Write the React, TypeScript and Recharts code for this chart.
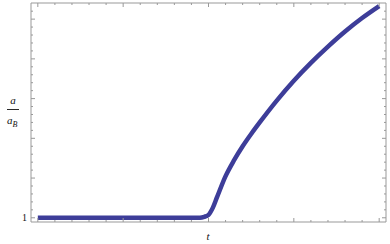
import React from 'react';
import { LineChart, Line, XAxis, YAxis, ReferenceLine, Label } from 'recharts';

// time samples (t) and the ratio a / a_B
const tValues = [0, 1, 2, 3, 4, 5, 6, 7, 8, 9, 9.5, 9.75, 10, 10.25, 10.5, 11, 11.5, 12, 12.5, 13, 14, 15, 16, 17, 18, 19, 20];
const aRatio = [1, 1, 1, 1, 1, 1, 1, 1, 1, 1, 1.002, 1.025, 1.075, 1.25, 1.52, 2.05, 2.45, 2.8, 3.11, 3.4, 3.95, 4.45, 4.9, 5.31, 5.69, 6.03, 6.33];

const xTicks = [0, 1, 2, 3, 4, 5, 6, 7, 8, 9, 10, 11, 12, 13, 14, 15, 16, 17, 18, 19, 20];
const yTicks = [1, 1.2, 1.4, 1.6, 1.8, 2, 2.2, 2.4, 2.6, 2.8, 3, 3.2, 3.4, 3.6, 3.8, 4, 4.2, 4.4, 4.6, 4.8, 5, 5.2, 5.4, 5.6, 5.8, 6, 6.2];
const yLabelled = [1];

const X_MIN = -0.4;
const X_MAX = 20.4;
const Y_MIN = 0.894;
const Y_MAX = 6.406;

const data = tValues.map((t, i) => ({ t, a: aRatio[i] }));

const FRAME = '#999999';
const LINE = '#3d3d99';
const PLOT_TOP = 3;
const PLOT_RIGHT = 386;
const serif = '"Liberation Serif", "Times New Roman", serif';

const isMajor = (v: number) => Math.abs(v - Math.round(v)) < 1e-6;

const XTick = (props: any) => {
    const { x, y, payload } = props;
    const len = payload.value % 5 === 0 ? 4 : 2;
    return (
        <g stroke={FRAME} strokeWidth={1}>
            <line x1={x} x2={x} y1={y} y2={y - len} />
            <line x1={x} x2={x} y1={PLOT_TOP} y2={PLOT_TOP + len} />
        </g>
    );
};

const YTick = (props: any) => {
    const { x, y, payload } = props;
    const len = isMajor(payload.value) ? 4 : 2;
    return (
        <g>
            <line x1={x} x2={x + len} y1={y} y2={y} stroke={FRAME} />
            <line x1={PLOT_RIGHT} x2={PLOT_RIGHT - len} y1={y} y2={y} stroke={FRAME} />
            {yLabelled.includes(payload.value) && (
                <text x={x - 4} y={y + 3.5} textAnchor="end" fontFamily={serif} fontSize={10} fill="#111">
                    {payload.value}
                </text>
            )}
        </g>
    );
};

const FractionLabel = () => (
    <g fontFamily={serif} fontStyle="italic" fontSize={11} fill="#111">
        <text x={13} y={104} textAnchor="middle">a</text>
        <line x1={7} x2={19} y1={109.5} y2={109.5} stroke="#111" strokeWidth={0.9} />
        <text x={7} y={124}>
            a<tspan fontSize={8} dy={2.5}>B</tspan>
        </text>
    </g>
);

const TLabel = () => (
    <text x={208} y={240} textAnchor="middle" fontFamily={serif} fontStyle="italic" fontSize={11} fill="#111">
        t
    </text>
);

export default function App() {
    return (
        <div style={{ position: 'absolute', left: 0, top: 0, width: 390, height: 244, background: '#fff' }}>
            <LineChart width={390} height={244} data={data} margin={{ top: PLOT_TOP, right: 4, left: 0, bottom: 0 }}>
                <XAxis
                    dataKey="t"
                    type="number"
                    domain={[X_MIN, X_MAX]}
                    ticks={xTicks}
                    interval={0}
                    height={22}
                    tickSize={0}
                    tickMargin={0}
                    tickLine={false}
                    axisLine={{ stroke: FRAME }}
                    tick={<XTick />}
                    allowDataOverflow
                >
                    <Label content={<TLabel />} />
                </XAxis>
                <YAxis
                    type="number"
                    domain={[Y_MIN, Y_MAX]}
                    ticks={yTicks}
                    interval={0}
                    width={31}
                    tickSize={0}
                    tickMargin={0}
                    tickLine={false}
                    axisLine={{ stroke: FRAME }}
                    tick={<YTick />}
                    allowDataOverflow
                >
                    <Label content={<FractionLabel />} />
                </YAxis>
                <ReferenceLine y={Y_MAX} stroke={FRAME} ifOverflow="extendDomain" />
                <ReferenceLine x={X_MAX} stroke={FRAME} ifOverflow="extendDomain" />
                <Line
                    type="monotone"
                    dataKey="a"
                    stroke={LINE}
                    strokeWidth={4.5}
                    dot={false}
                    isAnimationActive={false}
                />
            </LineChart>
        </div>
    );
}
